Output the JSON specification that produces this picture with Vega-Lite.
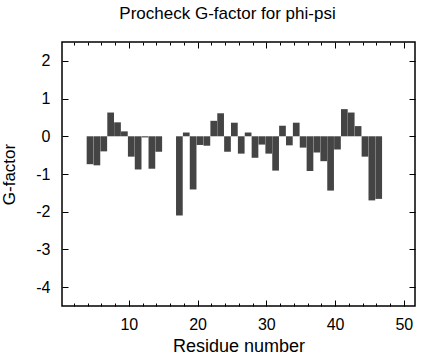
{
  "$schema": "https://vega.github.io/schema/vega-lite/v6.json",
  "width": 353,
  "height": 264,
  "autosize": {"type": "none"},
  "padding": {"left": 62, "top": 42, "right": 9, "bottom": 54},
  "background": "white",
  "title": {
    "text": "Procheck G-factor for phi-psi",
    "font": "Liberation Sans",
    "fontSize": 17,
    "fontWeight": "normal",
    "color": "black",
    "anchor": "middle",
    "dx": -11,
    "offset": 19
  },
  "config": {
    "view": {"stroke": "black", "strokeWidth": 1.5},
    "axis": {
      "labelFont": "Liberation Sans",
      "titleFont": "Liberation Sans",
      "labelFontSize": 16,
      "titleFontSize": 17,
      "titleFontWeight": "normal",
      "labelColor": "black",
      "titleColor": "black",
      "tickColor": "black",
      "tickWidth": 1,
      "domain": false,
      "grid": false
    }
  },
  "data": {
    "values": [
      {"residue": 4, "g": -0.74},
      {"residue": 5, "g": -0.77},
      {"residue": 6, "g": -0.40},
      {"residue": 7, "g": 0.63},
      {"residue": 8, "g": 0.37},
      {"residue": 9, "g": 0.13},
      {"residue": 10, "g": -0.54},
      {"residue": 11, "g": -0.88},
      {"residue": 12, "g": -0.03},
      {"residue": 13, "g": -0.86},
      {"residue": 14, "g": -0.41},
      {"residue": 17, "g": -2.10},
      {"residue": 18, "g": 0.10},
      {"residue": 19, "g": -1.41},
      {"residue": 20, "g": -0.23},
      {"residue": 21, "g": -0.25},
      {"residue": 22, "g": 0.41},
      {"residue": 23, "g": 0.61},
      {"residue": 24, "g": -0.41},
      {"residue": 25, "g": 0.36},
      {"residue": 26, "g": -0.46},
      {"residue": 27, "g": 0.10},
      {"residue": 28, "g": -0.57},
      {"residue": 29, "g": -0.22},
      {"residue": 30, "g": -0.46},
      {"residue": 31, "g": -0.91},
      {"residue": 32, "g": 0.28},
      {"residue": 33, "g": -0.24},
      {"residue": 34, "g": 0.36},
      {"residue": 35, "g": -0.30},
      {"residue": 36, "g": -0.92},
      {"residue": 37, "g": -0.43},
      {"residue": 38, "g": -0.66},
      {"residue": 39, "g": -1.44},
      {"residue": 40, "g": -0.35},
      {"residue": 41, "g": 0.72},
      {"residue": 42, "g": 0.63},
      {"residue": 43, "g": 0.27},
      {"residue": 44, "g": -0.54},
      {"residue": 45, "g": -1.70},
      {"residue": 46, "g": -1.66}
    ]
  },
  "layer": [
    {
      "mark": {"type": "bar", "color": "#444444", "size": 6.7, "xOffset": 2.4},
      "encoding": {
        "x": {
          "field": "residue",
          "type": "quantitative",
          "scale": {"domain": [1.0, 50.9], "nice": false, "zero": false},
          "axis": {
            "orient": "bottom",
            "title": "Residue number",
            "titleFontSize": 18,
            "values": [2, 4, 6, 8, 10, 12, 14, 16, 18, 20, 22, 24, 26, 28, 30, 32, 34, 36, 38, 40, 42, 44, 46, 48, 50],
            "labelExpr": "datum.value % 10 === 0 ? datum.value + '' : ''",
            "tickSize": {"condition": {"test": "datum.value % 10 === 0", "value": -6}, "value": -3},
            "labelPadding": 16,
            "titlePadding": 5,
            "labelFlush": false
          }
        },
        "y": {
          "field": "g",
          "type": "quantitative",
          "scale": {"domain": [-4.5, 2.5], "nice": false},
          "axis": {
            "orient": "left",
            "title": "G-factor",
            "values": [-4, -3, -2, -1, 0, 1, 2],
            "labelExpr": "datum.value + ''",
            "tickSize": -6,
            "labelPadding": 18,
            "titlePadding": 17,
            "labelFlush": false
          }
        }
      }
    },
    {
      "mark": {"type": "bar", "opacity": 0, "size": 6.7},
      "encoding": {
        "x": {
          "field": "residue",
          "type": "quantitative",
          "axis": {
            "orient": "top",
            "title": null,
            "labels": false,
            "values": [2, 4, 6, 8, 10, 12, 14, 16, 18, 20, 22, 24, 26, 28, 30, 32, 34, 36, 38, 40, 42, 44, 46, 48, 50],
            "tickSize": {"condition": {"test": "datum.value % 10 === 0", "value": -6}, "value": -3}
          }
        },
        "y": {
          "field": "g",
          "type": "quantitative",
          "axis": {
            "orient": "right",
            "title": null,
            "labels": false,
            "values": [-4, -3, -2, -1, 0, 1, 2],
            "tickSize": -6
          }
        }
      }
    }
  ],
  "resolve": {"axis": {"x": "independent", "y": "independent"}}
}
